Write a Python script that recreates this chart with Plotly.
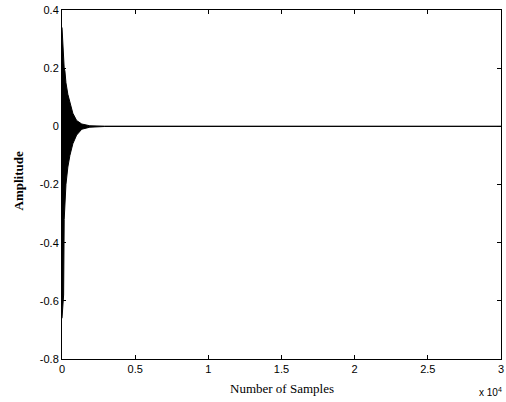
import plotly.graph_objects as go

# Envelope of the decaying response (samples, amplitude)
samples = [0, 40, 110, 150, 200, 270, 400, 540, 740, 1000, 1350, 1900, 2900, 30000]
upper   = [0.34, 0.30, 0.22, 0.20, 0.19, 0.15, 0.11, 0.08, 0.045, 0.02, 0.008, 0.002, 0.0006, 0.0]
lower   = [-0.66, -0.64, -0.58, -0.32, -0.27, -0.20, -0.14, -0.10, -0.06, -0.03, -0.01, -0.003, -0.0006, 0.0]

x_tickvals = [0, 5000, 10000, 15000, 20000, 25000, 30000]
x_ticktext = ["0", "0.5", "1", "1.5", "2", "2.5", "3"]
y_tickvals = [-0.8, -0.6, -0.4, -0.2, 0, 0.2, 0.4]
y_ticktext = ["-0.8", "-0.6", "-0.4", "-0.2", "0", "0.2", "0.4"]

fig = go.Figure()
fig.add_trace(go.Scatter(x=samples, y=upper, mode="lines",
                         line=dict(color="black", width=1), showlegend=False))
fig.add_trace(go.Scatter(x=samples, y=lower, mode="lines", fill="tonexty",
                         fillcolor="black",
                         line=dict(color="black", width=1), showlegend=False))

tickfont = dict(family="Liberation Sans", size=11, color="black")
fig.update_xaxes(range=[0, 30000], tickvals=x_tickvals, ticktext=x_ticktext,
                 ticks="inside", ticklen=4, tickcolor="black", showline=True,
                 linecolor="black", linewidth=1, mirror="ticks", showgrid=False,
                 zeroline=False, tickfont=tickfont, ticklabeloverflow="allow")
fig.update_yaxes(range=[-0.8, 0.4], tickvals=y_tickvals, ticktext=y_ticktext,
                 ticks="inside", ticklen=4, tickcolor="black", showline=True,
                 linecolor="black", linewidth=1, mirror="ticks", showgrid=False,
                 zeroline=False, tickfont=tickfont, ticklabeloverflow="allow")

fig.update_layout(
    width=506, height=402,
    margin=dict(l=62, r=2, t=10, b=43),
    paper_bgcolor="white", plot_bgcolor="white",
    annotations=[
        dict(text="Number of Samples", x=0.5, y=0, xref="paper", yref="paper",
             xanchor="center", yanchor="top", yshift=-20, showarrow=False,
             font=dict(family="Liberation Serif", size=13, color="black")),
        dict(text="<b>Amplitude</b>", x=0, y=0.51, xref="paper", yref="paper",
             xanchor="right", yanchor="middle", xshift=-34, textangle=-90,
             showarrow=False,
             font=dict(family="Liberation Serif", size=13, color="black")),
        dict(text="x 10<sup>4</sup>", x=1, y=0, xref="paper", yref="paper",
             xanchor="right", yanchor="top", yshift=-25, xshift=3, showarrow=False,
             font=dict(family="Liberation Sans", size=10, color="black")),
    ],
)

fig.write_html("out.html", config={"displayModeBar": False},
               post_script="document.body.style.margin='0';document.body.style.overflow='hidden';")
